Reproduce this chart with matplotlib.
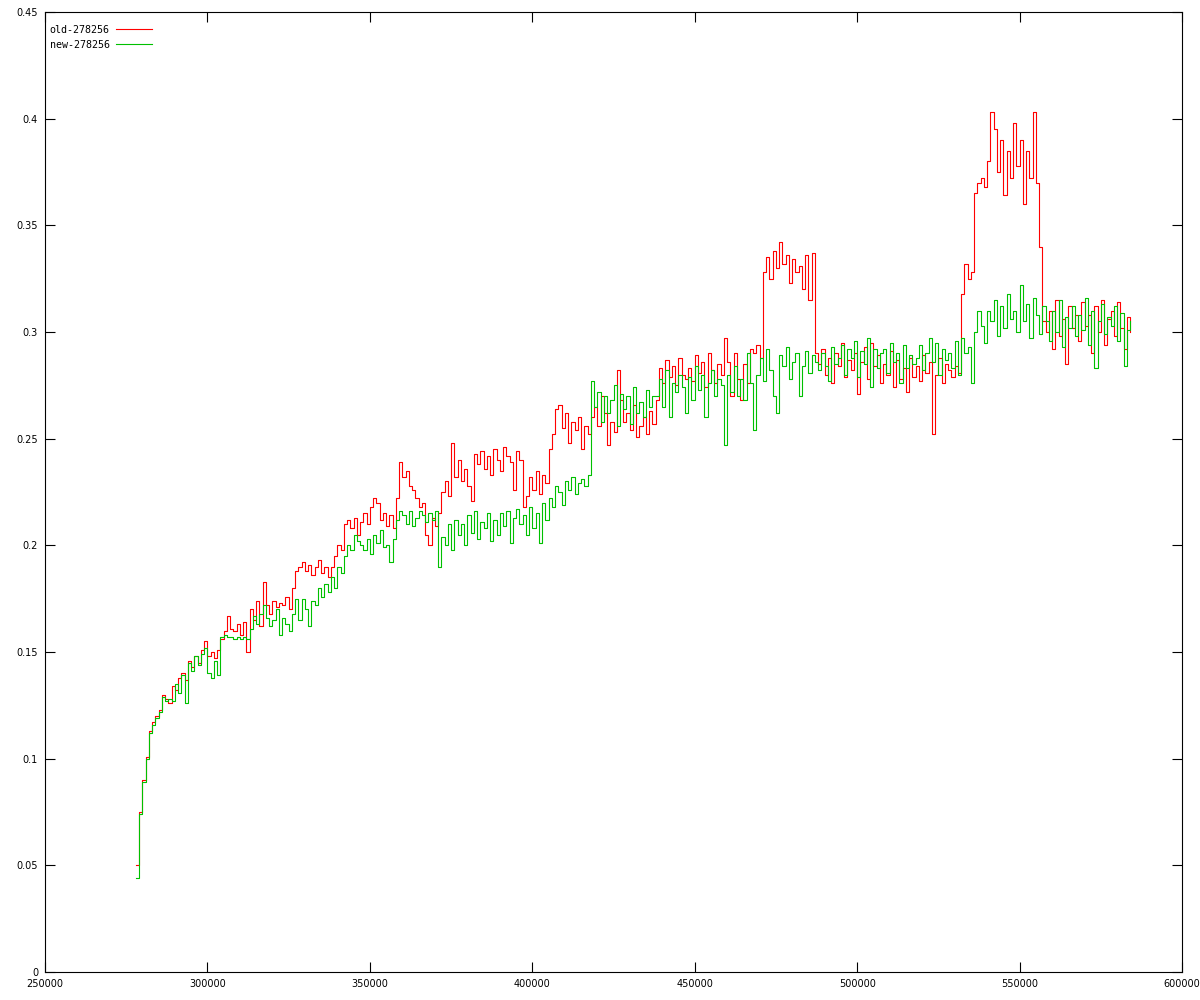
import numpy as np
import matplotlib
matplotlib.use("Agg")
import matplotlib.pyplot as plt

# samples every 1000 starting at 278000
x_start = 278000
x_step = 1000

old_vals = [
    0.050, 0.075, 0.090, 0.101, 0.113, 0.117, 0.120, 0.123, 0.130, 0.128,
    0.126, 0.134, 0.132, 0.138, 0.140, 0.137, 0.146, 0.143, 0.148, 0.145,
    0.151, 0.155, 0.148, 0.150, 0.147, 0.151, 0.156, 0.160, 0.167, 0.161,
    0.160, 0.163, 0.158, 0.164, 0.150, 0.170, 0.165, 0.174, 0.162, 0.183,
    0.172, 0.168, 0.174, 0.171, 0.173, 0.172, 0.176, 0.170, 0.180, 0.188,
    0.190, 0.192, 0.188, 0.191, 0.186, 0.190, 0.193, 0.187, 0.190, 0.185,
    0.190, 0.195, 0.200, 0.198, 0.210, 0.212, 0.208, 0.213, 0.205, 0.211,
    0.215, 0.210, 0.218, 0.222, 0.220, 0.212, 0.215, 0.209, 0.214, 0.208,
    0.222, 0.239, 0.232, 0.235, 0.228, 0.226, 0.222, 0.218, 0.220, 0.205,
    0.200, 0.213, 0.209, 0.215, 0.225, 0.230, 0.223, 0.248, 0.232, 0.240,
    0.230, 0.236, 0.228, 0.221, 0.243, 0.238, 0.244, 0.236, 0.242, 0.233,
    0.245, 0.240, 0.235, 0.246, 0.242, 0.239, 0.226, 0.244, 0.240, 0.218,
    0.223, 0.232, 0.226, 0.235, 0.224, 0.233, 0.229, 0.245, 0.252, 0.264,
    0.266, 0.255, 0.262, 0.248, 0.258, 0.254, 0.260, 0.245, 0.256, 0.252,
    0.260, 0.265, 0.256, 0.270, 0.262, 0.247, 0.258, 0.253, 0.282, 0.268,
    0.258, 0.262, 0.254, 0.266, 0.251, 0.256, 0.260, 0.252, 0.263, 0.257,
    0.268, 0.283, 0.276, 0.287, 0.279, 0.284, 0.275, 0.288, 0.280, 0.278,
    0.283, 0.277, 0.289, 0.281, 0.286, 0.274, 0.290, 0.282, 0.276, 0.285,
    0.280, 0.297, 0.286, 0.270, 0.290, 0.278, 0.268, 0.285, 0.276, 0.292,
    0.290, 0.294, 0.288, 0.328, 0.335, 0.325, 0.338, 0.330, 0.342, 0.332,
    0.336, 0.323, 0.334, 0.328, 0.331, 0.320, 0.336, 0.315, 0.337, 0.290,
    0.285, 0.292, 0.280, 0.288, 0.276, 0.290, 0.284, 0.295, 0.279, 0.287,
    0.282, 0.290, 0.271, 0.286, 0.293, 0.278, 0.295, 0.284, 0.289, 0.276,
    0.285, 0.280, 0.291, 0.274, 0.287, 0.278, 0.283, 0.272, 0.288, 0.279,
    0.284, 0.277, 0.289, 0.281, 0.286, 0.252, 0.280, 0.288, 0.276, 0.285,
    0.282, 0.279, 0.284, 0.281, 0.318, 0.332, 0.325, 0.328, 0.365, 0.370,
    0.372, 0.368, 0.380, 0.403, 0.395, 0.375, 0.390, 0.364, 0.385, 0.372,
    0.398, 0.378, 0.390, 0.360, 0.385, 0.372, 0.403, 0.370, 0.340, 0.305,
    0.300, 0.310, 0.292, 0.315, 0.298, 0.306, 0.285, 0.312, 0.302, 0.308,
    0.296, 0.314, 0.303, 0.308, 0.290, 0.312, 0.300, 0.315, 0.294, 0.306,
    0.310, 0.298, 0.314, 0.302, 0.292, 0.307, 0.300,
]

new_vals = [
    0.044, 0.074, 0.089, 0.100, 0.112, 0.116, 0.119, 0.122, 0.129, 0.127,
    0.128, 0.127, 0.135, 0.131, 0.139, 0.126, 0.145, 0.141, 0.148, 0.144,
    0.149, 0.152, 0.140, 0.138, 0.146, 0.139, 0.157, 0.158, 0.157, 0.157,
    0.156, 0.157, 0.156, 0.157, 0.156, 0.161, 0.167, 0.163, 0.168, 0.172,
    0.166, 0.162, 0.165, 0.170, 0.158, 0.166, 0.163, 0.160, 0.168, 0.175,
    0.165, 0.175, 0.170, 0.162, 0.174, 0.172, 0.180, 0.176, 0.182, 0.178,
    0.185, 0.180, 0.190, 0.187, 0.195, 0.200, 0.198, 0.205, 0.202, 0.200,
    0.198, 0.203, 0.196, 0.205, 0.201, 0.207, 0.199, 0.200, 0.192, 0.203,
    0.212, 0.216, 0.214, 0.210, 0.216, 0.209, 0.213, 0.216, 0.214, 0.211,
    0.215, 0.212, 0.216, 0.190, 0.204, 0.200, 0.210, 0.198, 0.212, 0.205,
    0.210, 0.200, 0.214, 0.206, 0.216, 0.203, 0.211, 0.208, 0.215, 0.202,
    0.212, 0.205, 0.215, 0.209, 0.216, 0.201, 0.213, 0.217, 0.210, 0.214,
    0.205, 0.218, 0.208, 0.215, 0.201, 0.220, 0.212, 0.222, 0.218, 0.228,
    0.225, 0.219, 0.230, 0.226, 0.232, 0.224, 0.229, 0.231, 0.228, 0.233,
    0.277, 0.265, 0.272, 0.258, 0.270, 0.262, 0.268, 0.275, 0.256, 0.271,
    0.264, 0.270, 0.257, 0.274, 0.262, 0.267, 0.260, 0.273, 0.265, 0.270,
    0.270, 0.278, 0.265, 0.282, 0.260, 0.276, 0.272, 0.280, 0.274, 0.262,
    0.279, 0.268, 0.284, 0.273, 0.280, 0.260, 0.276, 0.282, 0.270, 0.278,
    0.275, 0.247, 0.280, 0.272, 0.284, 0.270, 0.278, 0.268, 0.290, 0.276,
    0.254, 0.280, 0.288, 0.277, 0.292, 0.282, 0.270, 0.262, 0.289, 0.284,
    0.293, 0.278, 0.286, 0.290, 0.270, 0.284, 0.291, 0.281, 0.289, 0.286,
    0.282, 0.290, 0.284, 0.277, 0.293, 0.285, 0.288, 0.294, 0.280, 0.292,
    0.288, 0.296, 0.279, 0.291, 0.285, 0.297, 0.274, 0.292, 0.283, 0.290,
    0.292, 0.281, 0.295, 0.286, 0.290, 0.276, 0.294, 0.283, 0.289, 0.285,
    0.288, 0.294, 0.282, 0.290, 0.297, 0.286, 0.295, 0.280, 0.292, 0.287,
    0.290, 0.283, 0.296, 0.280, 0.297, 0.290, 0.293, 0.276, 0.300, 0.310,
    0.303, 0.295, 0.310, 0.305, 0.315, 0.298, 0.312, 0.302, 0.318, 0.306,
    0.310, 0.300, 0.322, 0.305, 0.313, 0.297, 0.316, 0.308, 0.299, 0.312,
    0.305, 0.296, 0.310, 0.300, 0.315, 0.293, 0.307, 0.302, 0.312, 0.298,
    0.308, 0.301, 0.316, 0.294, 0.310, 0.283, 0.305, 0.313, 0.299, 0.307,
    0.303, 0.312, 0.296, 0.309, 0.284, 0.301, 0.305,
]

x_ticks = [250000, 300000, 350000, 400000, 450000, 500000, 550000, 600000]
y_ticks = [0, 0.05, 0.1, 0.15, 0.2, 0.25, 0.3, 0.35, 0.4, 0.45]
y_labels = ["0", "0.05", "0.1", "0.15", "0.2", "0.25", "0.3", "0.35", "0.4", "0.45"]

x = x_start + x_step * np.arange(len(old_vals))

plt.rcParams["font.family"] = "DejaVu Sans"
plt.rcParams["font.size"] = 7

fig = plt.figure(figsize=(12, 10), dpi=100)
ax = fig.add_axes([0.0375, 0.028, 0.9475, 0.96])

ax.plot(x, old_vals, color="#ff0000", lw=0.8, drawstyle="steps-post", label="old-278256")
ax.plot(x, new_vals, color="#00c000", lw=0.8, drawstyle="steps-post", label="new-278256")

ax.set_xlim(250000, 600000)
ax.set_ylim(0, 0.45)
ax.set_xticks(x_ticks)
ax.set_xticklabels([str(t) for t in x_ticks])
ax.set_yticks(y_ticks)
ax.set_yticklabels(y_labels)
ax.tick_params(direction="in", length=7, width=0.8, top=True, right=True, pad=5)
for s in ax.spines.values():
    s.set_linewidth(0.8)

ax.legend(loc="upper left", bbox_to_anchor=(-0.002, 0.994), markerfirst=False,
          frameon=False, handlelength=3.6, handletextpad=0.6, labelspacing=0.5,
          borderaxespad=0.3, prop={"family": "DejaVu Sans Mono", "size": 7.2})

fig.savefig("out.png", dpi=100)
